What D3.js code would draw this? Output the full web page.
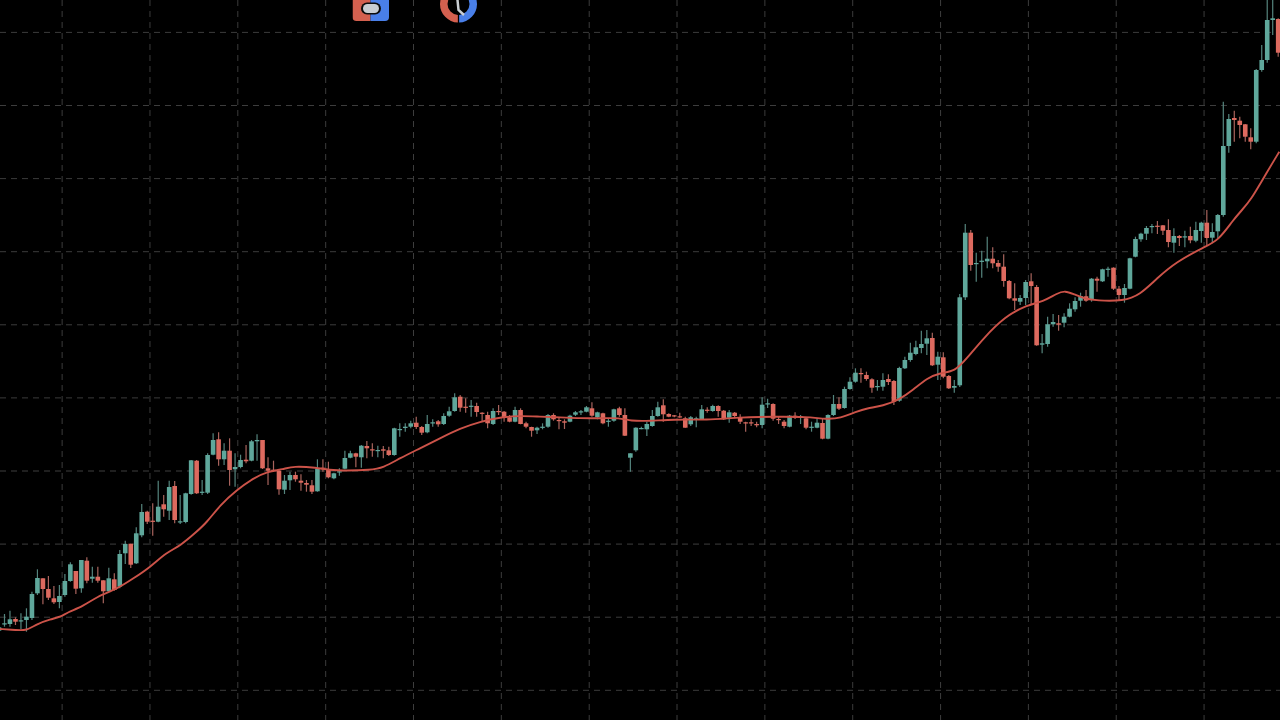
<!DOCTYPE html>
<html><head><meta charset="utf-8">
<script src="https://cdn.jsdelivr.net/npm/d3@7/dist/d3.min.js"></script>
<style>html,body{margin:0;padding:0;background:#000;overflow:hidden}svg{display:block}</style>
</head><body>
<svg id="chart" width="1280" height="720"></svg>
<script>
const opens=[89.3,95.7,96,101,99,100,102,126.7,141.7,131,
121.7,118,125,139,149,131.7,159.3,141.3,143.3,139.7,
128.7,140.7,133.3,166.7,176.3,156.7,184.7,208.3,199.3,198.3,
215.7,209.3,234,198,198,226,259.3,227.3,227.3,265.3,
280.7,260.7,269.3,250.7,253,260.3,259.3,278.7,280,251.7,
250.3,249.3,230.3,239.7,245,239.3,237,234.7,228.7,252.3,
250.7,241.7,247.7,251.3,262.3,266.7,262.7,274,270.7,269.3,
270.7,269.7,265,290,292,293.3,297.3,293,287.7,296.7,
298.7,296,304.3,309,323.3,313.3,313.3,314,307.3,305,
296,309,308.3,302.7,298.3,310,296.7,293,289.7,292.3,
293.3,305,300,298.7,298.3,305.3,308,308.3,311.7,302.7,
306.7,298.3,299.3,311.7,305,262.3,269.7,291.3,290.7,294,
304,314.7,306,304.7,303.7,301.7,295.7,301,300.7,310.3,
309,314,309.3,302.3,307.3,303,297.7,297.7,296,295,
315.7,316,301,298.3,293.3,304.3,303,301.7,292.7,292.3,
297,281.3,305,316,312,331,338.3,347,345,340.7,
333,333.3,341,339,319.3,351.7,360,366,372,376.3,
382,355.3,362.7,344,332.3,334.7,422.7,487.3,456,458.3,
458.7,461.3,457,453.3,439,421.7,418.3,422,438.7,433,
375.3,376,395.7,396.7,397.3,403.3,410.7,419.3,423.7,420.7,
441.3,438.7,450.7,452.3,431.3,425,431.3,463.3,480.7,486.3,
493.3,494.3,494.7,490,477.3,484,482.7,484,479.3,489,
497.3,482.3,488.7,505,574,602,599.3,595.7,582.7,578.3,
650,660,700,701];
const highs=[95,106,109.3,102.7,106.7,111.7,128.3,150.7,141.7,144,
134,135,146,157.7,149,160,162.7,153.3,153.3,139.7,
152.3,146.7,170,179.3,176.3,192.7,216,209.3,216.7,239.3,
225,239.3,239,225,227.3,260,260,240,266.7,286.7,
287.7,276.7,281.7,266.7,265.3,275,280,285.7,280,262.7,
259.3,250,245,248.3,248.3,245.7,240,240,260.7,260.7,
258.3,247.3,251.7,269.3,269.3,267.3,275,279,276.7,274.3,
274,273.3,292.3,296.7,296.7,299.3,303.3,294,305,300.7,
300,306.7,313.3,326.7,325,321.7,320,317.3,307.7,308.3,
311.7,315,309,305,313.3,311.7,298.3,293.3,293.3,296.7,
306,306.7,302.7,300.7,305.3,309,310,314,317.7,308.3,
307.3,301.7,311.3,313.3,311.7,266.7,292.7,293.3,298.3,310,
318.3,320.7,306.7,305,307.3,303.3,304,303.3,315,312.7,
315.3,314.7,310,310,308,305.7,298.3,300.7,298.3,322.7,
321.3,316.7,303.3,300,305,307.7,305,302.7,298.3,301.7,
301.3,305.7,325,322.7,333.3,342.7,351.7,351.7,348.3,341.7,
340,346.7,345.7,340,353.3,363.3,377.3,379.3,389.3,390,
387.3,368.3,367.7,345,340,426,496,490,467.3,469.3,
483.3,472.7,460,465.7,440,436.7,425,440,446.7,435,
386,403.3,406,405,406.7,416.7,422.7,427.3,430,442,
443.3,451.3,453.3,452.7,434,436,462.3,483.3,487.3,494,
496,499,495,500.7,491.7,485,489.3,493.3,498.3,498.3,
510,496.7,506,618.3,606,609.3,603.3,596,591.7,651,
675,720,720,701.7];
const lows=[85,93.3,93.3,95,90.7,88.3,100,125,115.7,120,
116,111.7,123.3,138.3,126,127.3,136.7,137.3,137.3,116.7,
128.3,129.3,131.7,156,152,156,182.7,196,184.3,197.7,
203.3,200,196.7,196,196.7,225.3,226,225,226,264.7,
254.3,255,234.3,233.3,251.7,256.7,258.7,259.3,251,235,
249,225.3,226,230,238.3,229.3,228.3,226,228.3,248.3,
241.7,240.7,244.3,250.7,261.7,252.7,252.3,261.7,263.3,262.7,
261.7,264,264.3,283.3,288.3,291.7,291,285,286.7,293.3,
293.3,295,303.3,308.3,308.3,307.3,303.3,303.3,298.3,291.7,
295,305,298.3,297.7,297.7,295.7,291.7,283.3,286,290.7,
292.3,299.3,290.7,291,297.7,304,305,307.7,303.3,300.7,
295.7,293.3,298.3,303.3,284,248.3,268.3,290.7,284,293.3,
303.3,298.3,302.7,302.7,302.3,292.3,294,292.7,300,307.3,
308.3,303.3,300,297.3,301.7,296,288.3,294,292.7,291.7,
312,299.3,296,291.7,292.7,301,296,290.7,288.3,291.7,
280.7,280.7,304,310,311.3,330.3,337.3,337.3,339.3,327.3,
329.3,329.3,335,315,318.3,351,358.3,364.7,366.7,365,
354,340,341.7,331,327.3,333,420,449.3,438.3,442.3,
451.7,451.7,448.3,433.3,420.7,410,415,415,415,374.3,
366.7,373.3,393.3,389.3,392.7,402.7,408.3,413.3,418.3,418.3,
428.3,438,443.3,430,420,417.3,430.7,462.7,478.3,480,
486.7,486,485,472.7,467.3,474,472.7,476.7,477.7,477.3,
474,476.7,481.7,503.3,567.3,578.3,581.7,578.3,570.7,576.7,
648.3,657.3,685,663.3];
const closes=[92.7,96.7,100.7,98.3,99.7,103.3,126,142,131,122.3,
117.7,124,139,155.7,131.3,160,139.3,143.3,139.3,128.7,
141.7,130,166,176,155.3,186.7,208,198.3,198.7,213.3,
210.7,233,200,198.7,226.7,259.7,226.7,228.3,265,280,
260.7,269.3,250,253,260,258.7,278.7,280,251.7,249.3,
249.7,230.7,239.3,245,240.7,237.3,235.3,228.3,251.3,250.7,
242.7,246.7,248.7,262,266.7,263.3,274.3,271.7,269.7,270,
269.3,265,291.7,291,293.3,296.7,293,287.3,296,297.7,
295.7,304,308.7,322.7,312.3,312.3,314.3,308,306.7,296.7,
309,308.3,302.7,298.3,310,296,293.3,289.3,292.3,293.3,
305,300.7,299.3,297.3,304.3,307.7,308.7,312.7,304.3,307.7,
296.7,299.3,310.7,305,284.3,266.7,292.3,292,296,304,
312.7,305.7,303.3,303.7,303,292.3,302.7,301.7,310.7,309.3,
314,309,300.7,307.7,304,298.3,297,297,294.7,315.3,
316.7,301.3,300.3,294,304.3,302.3,303.7,292.3,293.3,297.3,
281.3,305,316,311.3,331,338.3,347.3,346.3,341,332.3,
334,340,338,318.3,352,360,367.3,372.7,376,381.7,
354.7,363.3,343.3,331.7,334,422.7,487.3,455,457,459.3,
461.3,456.7,453.3,439,421.7,419.3,422,438,434,374.7,
376.7,395.7,398,395.3,403.3,411.3,419,424,419.3,441.3,
439.3,450.7,451.3,431.3,425,432,461.7,481,486.3,492,
494,493.3,489.3,478,484,482,483.7,479.7,490,497.3,
482,488,505,574,601,600,595,583.3,578.3,650,
660,700,701.7,667.3];
const maSlots=[0.2,3.2,5,6.9,9.3,11.4,12.3,15.4,17.8,21.4,24.5,27.5,30.5,33,36,37.8,40.3,43.3,46.3,48.8,51.8,53.6,57.9,60,63.3,67.6,70,73,76.7,80.3,84,87.6,91.3,94.9,98.5,102.2,105.8,109.5,113.1,115,118.6,122.8,128.9,135,141,147.1,150.8,153.2,156.2,158,161,164.1,166.5,169,171.4,174.1,176.3,179.3,183.2,187.2,190.2,192.7,194.2,195.7,197.5,200,204.8,207.8,210.9,214.5,219.4,222.1,224.8,226.4,228,230.3,233.2];
const maValues=[91,90,89.3,96,100.7,103.3,107.3,114,123.3,130.7,141.7,152.7,167.7,174,188.3,197.3,215,230,241.7,248.3,250.7,254,252.3,250,249.3,250,252.3,261.7,271.7,281.7,291.7,298.3,302.7,304.3,303.3,302.7,301.7,301.7,302.3,299,299,300.7,300,302.7,303.3,303.3,300.7,301.7,308.3,311.7,314,320.7,330,341.7,347.3,348.3,361.7,381.7,403.3,415,418.3,426.7,429.3,426,421.7,419.3,419,425,441.7,458.3,472.7,479.3,500,510,520,541.7,568.3];
const gridPrices=[687.6,614.5,541.4,468.3,395.2,322.1,249,175.9,102.8,29.7];
const gridSlots=[11.5,27.5,43.5,59.5,75.5,91.5,107.5,123.5,139.5,155.5,171.5,187.5,203.5,219.5];

const W=1280,H=720;
const COLORS={up:"#5fa79b",down:"#dd6a5f",upWick:"#55857e",downWick:"#a8645d",ma:"#cc5349",grid:"#3c3c3c"};
const x=d3.scaleLinear().domain([0,233]).range([-1,1278.2]);
const y=d3.scaleLinear().domain([0,720]).range([720,0]);
const svg=d3.select("#chart");
svg.append("rect").attr("width",W).attr("height",H).attr("fill","#000");
const defs=svg.append("defs");
defs.append("filter").attr("id","soft").attr("filterUnits","userSpaceOnUse")
  .attr("x",0).attr("y",0).attr("width",W).attr("height",H)
  .append("feGaussianBlur").attr("stdDeviation",0.45);

const scene=svg.append("g").attr("filter","url(#soft)");
const grid=scene.append("g").attr("stroke",COLORS.grid).attr("stroke-width",1).attr("stroke-dasharray","6 5");
grid.selectAll("line.h").data(gridPrices).join("line").attr("class","h")
  .attr("x1",0).attr("x2",W).attr("y1",d=>y(d)).attr("y2",d=>y(d));
grid.selectAll("line.v").data(gridSlots).join("line").attr("class","v")
  .attr("y1",0).attr("y2",H).attr("x1",d=>x(d)).attr("x2",d=>x(d));

const candles=opens.map((o,i)=>({i,o,h:highs[i],l:lows[i],c:closes[i],up:closes[i]>=o}));
const g=scene.append("g");
g.selectAll("line.wick").data(candles).join("line").attr("class","wick")
  .attr("x1",d=>x(d.i)).attr("x2",d=>x(d.i)).attr("y1",d=>y(d.h)).attr("y2",d=>y(d.l))
  .attr("stroke",d=>d.up?COLORS.upWick:COLORS.downWick).attr("stroke-width",1.2);
g.selectAll("rect.body").data(candles).join("rect").attr("class","body")
  .attr("x",d=>x(d.i)-2.3).attr("width",4.6)
  .attr("y",d=>y(Math.max(d.o,d.c)))
  .attr("height",d=>Math.max(1.2,Math.abs(y(d.o)-y(d.c))))
  .attr("fill",d=>d.up?COLORS.up:COLORS.down);

const maLine=d3.line().x((d,i)=>x(maSlots[i])).y(d=>y(d)).curve(d3.curveBasis);
scene.append("path").datum(maValues).attr("d",maLine).attr("fill","none")
  .attr("stroke",COLORS.ma).attr("stroke-width",1.9);

// Toolbar icons clipped at the top edge
const ic=scene.append("g");
const clipA=ic.append("clipPath").attr("id","ia");
clipA.append("rect").attr("x",352.5).attr("y",-20).attr("width",36.5).attr("height",41).attr("rx",4);
const a=ic.append("g").attr("clip-path","url(#ia)");
a.append("rect").attr("x",352.5).attr("y",-20).attr("width",18).attr("height",41).attr("fill","#d4604f");
a.append("rect").attr("x",370.5).attr("y",-20).attr("width",18.5).attr("height",41).attr("fill","#4a7fe8");
ic.append("rect").attr("x",361).attr("y",2.5).attr("width",20).attr("height",12).attr("rx",6).attr("fill","#0d0d0d");
ic.append("rect").attr("x",363).attr("y",4).attr("width",16).attr("height",9).attr("rx",4.5).attr("fill","#c9ced3");
const cx=458.5,cy=4;
const arc=d3.arc().innerRadius(11).outerRadius(18.5).padAngle(0.06);
ic.append("path").attr("transform",`translate(${cx},${cy})`).attr("d",arc({startAngle:Math.PI,endAngle:2*Math.PI})).attr("fill","#d4604f");
ic.append("path").attr("transform",`translate(${cx},${cy})`).attr("d",arc({startAngle:0,endAngle:Math.PI})).attr("fill","#4a7fe8");
ic.append("path").attr("d","M457.5,0 L458.5,10 L464,15").attr("fill","none").attr("stroke","#c9ced3").attr("stroke-width",2.5);
</script>
</body></html>
